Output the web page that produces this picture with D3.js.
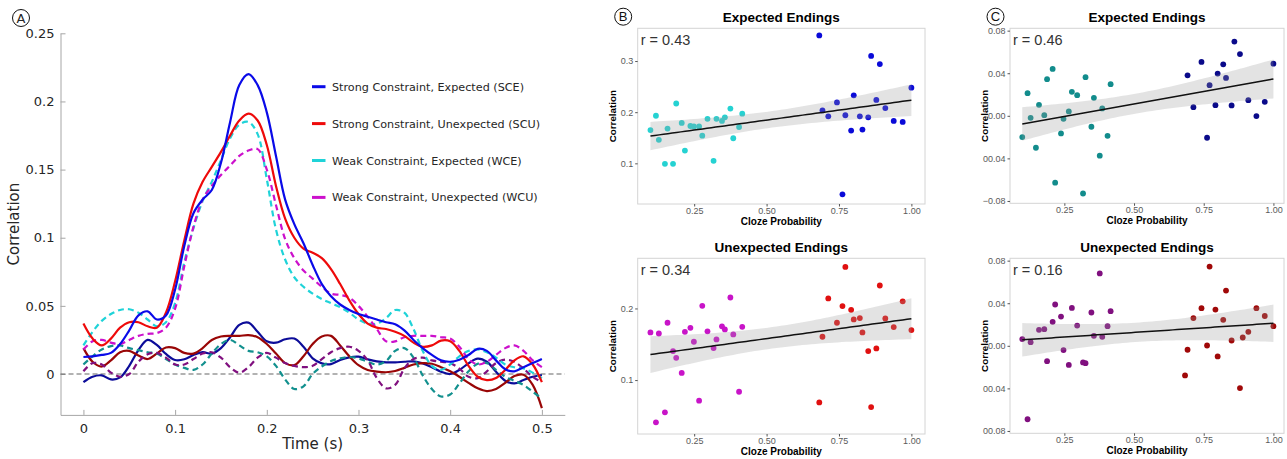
<!DOCTYPE html>
<meta charset="utf-8">
<style>
body { margin: 0; background: #fff; }
svg { display: block; }
.matlab text { font-family: 'DejaVu Sans', sans-serif; fill: #262626; }
.gg text { font-family: 'Liberation Sans', Arial, sans-serif; }
</style>
<body>
<script src="https://d3js.org/d3.v7.min.js"></script>
<script>

// ---- panel A: correlation time courses (sampled every 10 ms) ----
const times = d3.range(0, 51).map(i => i / 100);

const sce = [0.0125,0.013,0.014,0.0155,0.022,0.032,0.043,0.046,0.040,0.043,
             0.062,0.094,0.118,0.128,0.135,0.155,0.185,0.212,0.220,0.212,
             0.192,0.160,0.128,0.110,0.096,0.080,0.066,0.057,0.051,0.047,
             0.044,0.042,0.040,0.038,0.0365,0.032,0.025,0.019,0.014,0.010,
             0.009,0.0105,0.014,0.0185,0.017,0.010,0.0035,0.002,0.005,0.008,0.011];
const scu = [0.037,0.026,0.021,0.026,0.034,0.038,0.038,0.035,0.034,0.045,
             0.068,0.098,0.125,0.141,0.152,0.163,0.175,0.186,0.191,0.186,
             0.168,0.138,0.114,0.100,0.092,0.089,0.085,0.077,0.066,0.054,
             0.044,0.037,0.034,0.033,0.031,0.028,0.023,0.020,0.021,0.0245,
             0.024,0.017,0.006,-0.002,-0.0045,-0.003,0.003,0.010,0.013,0.007,-0.006];
const wce = [0.021,0.031,0.039,0.044,0.047,0.0475,0.045,0.040,0.035,0.038,
             0.052,0.082,0.107,0.127,0.141,0.157,0.173,0.183,0.185,0.176,
             0.143,0.106,0.084,0.071,0.064,0.059,0.055,0.052,0.049,0.045,
             0.040,0.037,0.037,0.041,0.047,0.045,0.033,0.017,0.006,0.003,
             0.007,0.013,0.017,0.018,0.016,0.012,0.007,0.005,0.004,0.001,-0.003];
const wcu = [0.018,0.024,0.025,0.023,0.022,0.025,0.028,0.0295,0.030,0.034,
             0.048,0.079,0.108,0.128,0.138,0.146,0.153,0.160,0.164,0.165,
             0.150,0.124,0.099,0.085,0.076,0.070,0.064,0.059,0.058,0.056,
             0.050,0.042,0.033,0.024,0.024,0.027,0.028,0.028,0.028,0.027,
             0.026,0.020,0.011,0.007,0.009,0.014,0.019,0.021,0.017,0.010,0.005];
// control time courses (no legend entry)
const sceCtrl = [-0.006,-0.002,-0.001,-0.004,-0.0025,0.006,0.0176,0.025,0.0213,0.0147,
             0.0103,0.0108,0.014,0.016,0.015,0.019,0.027,0.036,0.0377,0.031,
             0.024,0.023,0.0255,0.026,0.020,0.0115,0.0078,0.0073,0.0103,0.0122,
             0.0127,0.0108,0.0093,0.0086,0.0086,0.009,0.0093,0.0078,0.0049,0.0017,
             0.0,0.003,0.0078,0.0113,0.009,0.0017,-0.0049,-0.0069,-0.0044,-0.002,-0.0007];
const scuCtrl = [0.019,0.009,0.0055,0.010,0.016,0.017,0.0135,0.011,0.015,0.0195,
             0.019,0.0155,0.015,0.019,0.025,0.0275,0.028,0.028,0.0285,0.027,
             0.022,0.015,0.008,0.0065,0.013,0.022,0.0275,0.028,0.021,0.013,
             0.0065,0.003,0.0018,0.0013,0.0022,0.0045,0.007,0.008,0.0075,0.005,
             0.002,-0.002,-0.0065,-0.0105,-0.0125,-0.011,-0.0065,-0.0015,-0.0005,-0.008,-0.025];
const wceCtrl = [0.007,0.013,0.018,0.0205,0.021,0.019,0.0175,0.016,0.015,0.011,
             0.007,0.0045,0.003,0.007,0.015,0.022,0.025,0.021,0.017,0.016,
             0.013,0.006,-0.004,-0.011,-0.009,0.0,0.0055,0.0095,0.0115,0.0125,
             0.0115,0.009,0.007,0.0095,0.017,0.019,0.012,-0.001,-0.011,-0.0165,
             -0.015,-0.007,0.002,0.0075,0.008,0.003,-0.002,-0.005,-0.008,-0.013,-0.018];
const wcuCtrl = [0.002,0.008,0.007,0.001,-0.002,0.0,0.009,0.0145,0.0155,0.012,
             0.007,0.007,0.011,0.015,0.016,0.012,0.005,0.001,0.005,0.012,
             0.0155,0.012,0.008,0.006,0.005,0.006,0.011,0.016,0.019,0.020,
             0.017,0.010,-0.003,-0.0105,-0.008,0.004,0.011,0.012,0.010,0.009,
             0.008,0.004,-0.002,-0.003,0.002,0.008,0.0105,0.009,0.004,-0.002,-0.006];

const seriesA = [
  {name: "Strong Constraint, Expected (SCE)", values: sce, color: "#0a0ae8", dash: null, legend: true},
  {name: "Strong Constraint, Unexpected (SCU)", values: scu, color: "#ee0a0a", dash: null, legend: true},
  {name: "Weak Constraint, Expected (WCE)", values: wce, color: "#1fd3d8", dash: "6,4", legend: true},
  {name: "Weak Constraint, Unexpected (WCU)", values: wcu, color: "#cc10cc", dash: "6,4", legend: true},
  {name: "SCE control", values: sceCtrl, color: "#0c0c99", dash: null},
  {name: "SCU control", values: scuCtrl, color: "#990606", dash: null},
  {name: "WCE control", values: wceCtrl, color: "#12908e", dash: "6,4"},
  {name: "WCU control", values: wcuCtrl, color: "#80107f", dash: "6,4"}
];
const drawOrder = [4, 5, 6, 7, 2, 3, 1, 0];

const xTicksA = [0, 0.1, 0.2, 0.3, 0.4, 0.5];
const yTicksA = [0, 0.05, 0.1, 0.15, 0.2, 0.25];

// ---- panels B and C: cloze probability vs correlation ----
const bTopLowX  = [0.099,0.118,0.128,0.149,0.158,0.177,0.188,0.207,0.218,0.237,0.249,0.267,0.278,0.296,0.317,0.327,0.346,0.356,0.375,0.385,0.405,0.416];
const bTopLowY  = [0.165,0.193,0.146,0.099,0.168,0.099,0.217,0.179,0.125,0.173,0.172,0.172,0.154,0.187,0.105,0.187,0.183,0.190,0.207,0.149,0.171,0.197];
const bTopHighX = [0.682,0.693,0.713,0.743,0.762,0.772,0.792,0.801,0.822,0.831,0.851,0.861,0.879,0.891,0.910,0.939,0.970,1.000];
const bTopHighY = [0.350,0.2035,0.192,0.219,0.0395,0.194,0.164,0.233,0.192,0.166,0.190,0.310,0.224,0.294,0.208,0.183,0.181,0.248];

const bBotLowX  = [0.099,0.118,0.128,0.149,0.158,0.177,0.188,0.207,0.218,0.237,0.249,0.267,0.278,0.296,0.317,0.327,0.346,0.356,0.375,0.385,0.405,0.416];
const bBotLowY  = [0.1665,0.041,0.165,0.055,0.180,0.1405,0.131,0.110,0.1674,0.173,0.1535,0.0712,0.2037,0.168,0.1447,0.1567,0.175,0.1707,0.2153,0.1637,0.0837,0.1744];
const bBotHighX = [0.682,0.693,0.713,0.743,0.762,0.772,0.792,0.801,0.822,0.831,0.851,0.861,0.879,0.891,0.910,0.939,0.970,1.000];
const bBotHighY = [0.0688,0.1605,0.214,0.180,0.2033,0.258,0.198,0.1847,0.1865,0.1665,0.1405,0.0623,0.1442,0.232,0.186,0.174,0.210,0.1698];

const cTopLowX  = [0.099,0.118,0.129,0.148,0.159,0.178,0.188,0.208,0.217,0.238,0.247,0.266,0.277,0.296,0.317,0.326,0.347,0.356,0.377,0.386,0.405,0.416];
const cTopLowY  = [-0.020,0.0213,-0.0019,-0.030,0.0103,0.0006,0.0344,0.044,-0.0628,-0.0166,-0.0028,0.0041,0.0225,0.0194,-0.073,0.0363,-0.0103,0.0169,-0.0375,0.0069,-0.0188,0.0297];
const cTopHighX = [0.692,0.713,0.742,0.762,0.771,0.792,0.800,0.820,0.830,0.850,0.860,0.880,0.910,0.939,0.969,1.000];
const cTopHighY = [0.038,0.0081,0.0506,-0.0206,0.0288,0.010,0.0397,0.0484,0.0356,0.0097,0.0697,0.058,0.0147,-0.0003,0.0131,0.049];

const cBotLowX  = [0.099,0.118,0.129,0.159,0.178,0.188,0.208,0.217,0.238,0.247,0.266,0.277,0.296,0.317,0.326,0.347,0.356,0.377,0.386,0.405,0.416];
const cBotLowY  = [0.0063,-0.069,0.0034,0.015,0.0156,-0.0144,0.0225,0.0388,0.0275,-0.004,-0.018,0.0356,0.019,-0.0156,-0.0163,0.0313,0.0094,0.068,0.0084,0.0184,0.0325];
const cBotHighX = [0.683,0.692,0.713,0.742,0.762,0.771,0.792,0.800,0.820,0.830,0.850,0.880,0.890,0.910,0.939,0.969,1.000];
const cBotHighY = [-0.0278,-0.0037,0.026,0.0353,0.0003,0.0744,0.034,-0.010,0.0244,0.0519,0.005,-0.0397,0.0078,0.0131,0.0353,0.028,0.0184];

const clozeTicks = [0.25, 0.5, 0.75, 1.0];
const clozeTickLabels = ["0.25", "0.50", "0.75", "1.00"];
const bTopTicks = [0.1, 0.2, 0.3];
const bBotTicks = [0.1, 0.2];
const cTicks = [0.08, 0.04, 0, -0.04, -0.08];
const cTopTickLabels = ["0.08", "0.04", "0.00", "00.04", "\u22120.08"];
const cBotTickLabels = ["0.08", "0.04", "0.00", "00.04", "00.08"];

const scatterPanels = [
  {title: "Expected Endings", r: "r = 0.43", letter: "B",
   low: [bTopLowX, bTopLowY], high: [bTopHighX, bTopHighY], colors: ["#25d2d2", "#0a0ad8"],
   box: [637.7, 28.3, 925, 204], xdom: [0.055, 1.047], ydom: [0.0205, 0.364],
   ticks: bTopTicks, tickLabels: bTopTicks.map(d => d.toFixed(1))},
  {title: "Unexpected Endings", r: "r = 0.34",
   low: [bBotLowX, bBotLowY], high: [bBotHighX, bBotHighY], colors: ["#c814c8", "#e01010"],
   box: [637.7, 258.3, 925, 434], xdom: [0.055, 1.047], ydom: [0.0247, 0.27],
   ticks: bBotTicks, tickLabels: bBotTicks.map(d => d.toFixed(1))},
  {title: "Expected Endings", r: "r = 0.46", letter: "C",
   low: [cTopLowX, cTopLowY], high: [cTopHighX, cTopHighY], colors: ["#128c8c", "#0a0a8a"],
   box: [1010, 28.3, 1284, 203.3], xdom: [0.055, 1.038], ydom: [-0.0822, 0.0822],
   ticks: cTicks, tickLabels: cTopTickLabels},
  {title: "Unexpected Endings", r: "r = 0.16",
   low: [cBotLowX, cBotLowY], high: [cBotHighX, cBotHighY], colors: ["#80107f", "#a00808"],
   box: [1010, 258.3, 1284, 433.3], xdom: [0.055, 1.038], ydom: [-0.0822, 0.0822],
   ticks: cTicks, tickLabels: cBotTickLabels}
];

const svg = d3.select("body").append("svg")
    .attr("width", 1287)
    .attr("height", 459);

// ================= Panel A =================
const gA = svg.append("g").attr("class", "matlab");
const xA = d3.scaleLinear().domain([-0.025, 0.525]).range([60.5, 564.8]);
const yA = d3.scaleLinear().domain([-0.03, 0.25]).range([414.9, 33.3]);

gA.append("g")
    .attr("transform", `translate(0,${yA.range()[0]})`)
    .call(d3.axisBottom(xA).tickValues(xTicksA).tickFormat(d3.format("~g"))
          .tickSizeInner(-5).tickSizeOuter(0).tickPadding(9))
    .call(g => g.selectAll("text").attr("font-size", 13).attr("font-family", "DejaVu Sans").attr("fill", "#262626"))
    .call(g => g.selectAll("line, path").attr("stroke", "#a6a6a6"));

gA.append("g")
    .attr("transform", `translate(${xA.range()[0]},0)`)
    .call(d3.axisLeft(yA).tickValues(yTicksA).tickFormat(d3.format("~g"))
          .tickSizeInner(-5).tickSizeOuter(0).tickPadding(6))
    .call(g => g.selectAll("text").attr("font-size", 13).attr("font-family", "DejaVu Sans").attr("fill", "#262626"))
    .call(g => g.selectAll("line, path").attr("stroke", "#a6a6a6"));

gA.append("line")
    .attr("x1", xA.range()[0]).attr("x2", xA.range()[1])
    .attr("y1", yA(0)).attr("y2", yA(0))
    .attr("stroke", "#666").attr("stroke-width", 1.2).attr("stroke-dasharray", "5,3");

const lineA = d3.line()
    .x((d, i) => xA(times[i]))
    .y(d => yA(d))
    .curve(d3.curveCatmullRom.alpha(0.5));

gA.append("g")
    .selectAll("path")
    .data(drawOrder.map(i => seriesA[i]))
    .join("path")
      .attr("d", d => lineA(d.values))
      .attr("fill", "none")
      .attr("stroke", d => d.color)
      .attr("stroke-width", 2.2)
      .attr("stroke-dasharray", d => d.dash);

gA.append("text")
    .attr("x", (xA.range()[0] + xA.range()[1]) / 2)
    .attr("y", 449)
    .attr("text-anchor", "middle")
    .attr("font-size", 15)
    .text("Time (s)");

gA.append("text")
    .attr("transform", `translate(19,${(yA.range()[0] + yA.range()[1]) / 2}) rotate(-90)`)
    .attr("text-anchor", "middle")
    .attr("font-size", 15)
    .text("Correlation");

const legA = gA.append("g")
    .selectAll("g")
    .data(seriesA.filter(d => d.legend))
    .join("g")
      .attr("transform", (d, i) => `translate(312,${86.7 + i * 36.9})`);
legA.append("line")
    .attr("x1", 0).attr("x2", 13.5)
    .attr("stroke", d => d.color).attr("stroke-width", 3);
legA.append("text")
    .attr("x", 20).attr("dy", "0.36em")
    .attr("font-size", 11.2)
    .text(d => d.name);

function circledLetter(g, cx, cy, letter, font) {
  g.append("circle").attr("cx", cx).attr("cy", cy).attr("r", 8.5)
      .attr("fill", "none").attr("stroke", "#111").attr("stroke-width", 1);
  g.append("text").attr("x", cx).attr("y", cy).attr("dy", "0.36em")
      .attr("text-anchor", "middle").attr("font-size", 13)
      .attr("font-family", font).attr("fill", "#111").text(letter);
}
circledLetter(gA, 21, 18, "A", "DejaVu Sans");

// ================= Panels B, C =================
function linFit(xs, ys, grid) {
  const n = xs.length, mx = d3.mean(xs), my = d3.mean(ys);
  let sxx = 0, sxy = 0;
  xs.forEach((x, i) => { sxx += (x - mx) ** 2; sxy += (x - mx) * (ys[i] - my); });
  const b = sxy / sxx, a = my - b * mx;
  let sse = 0;
  xs.forEach((x, i) => { sse += (ys[i] - a - b * x) ** 2; });
  const s = Math.sqrt(sse / (n - 2)), tq = 2.025;
  return grid.map(x => {
    const yh = a + b * x, se = s * Math.sqrt(1 / n + (x - mx) ** 2 / sxx);
    return {x, y: yh, lo: yh - tq * se, hi: yh + tq * se};
  });
}

scatterPanels.forEach(p => {
  const g = svg.append("g").attr("class", "gg");
  const [x0, y0, x1, y1] = p.box;
  const x = d3.scaleLinear().domain(p.xdom).range([x0, x1]);
  const y = d3.scaleLinear().domain(p.ydom).range([y1, y0]);
  const cx = (x0 + x1) / 2;

  g.append("rect").attr("x", x0).attr("y", y0)
      .attr("width", x1 - x0).attr("height", y1 - y0)
      .attr("fill", "#fff").attr("stroke", "#d4d4d4").attr("stroke-width", 1);

  g.append("g")
      .attr("transform", `translate(0,${y1})`)
      .call(d3.axisBottom(x).tickValues(clozeTicks).tickFormat((d, i) => clozeTickLabels[i])
            .tickSizeInner(2.5).tickSizeOuter(0).tickPadding(1))
      .call(a => a.select(".domain").remove())
      .call(a => a.selectAll("line").attr("stroke", "#555"))
      .call(a => a.selectAll("text").attr("font-size", 9).attr("fill", "#5a5a5a")
                  .attr("font-family", "Liberation Sans"));

  g.append("g")
      .attr("transform", `translate(${x0},0)`)
      .call(d3.axisLeft(y).tickValues(p.ticks).tickFormat((d, i) => p.tickLabels[i])
            .tickSizeInner(2.5).tickSizeOuter(0).tickPadding(2))
      .call(a => a.select(".domain").remove())
      .call(a => a.selectAll("line").attr("stroke", "#555"))
      .call(a => a.selectAll("text").attr("font-size", 9).attr("fill", "#5a5a5a")
                  .attr("font-family", "Liberation Sans"));

  const allX = p.low[0].concat(p.high[0]);
  const allY = p.low[1].concat(p.high[1]);

  g.append("g").selectAll("circle")
      .data(p.low[0].map((v, i) => [v, p.low[1][i], 0]).concat(p.high[0].map((v, i) => [v, p.high[1][i], 1])))
      .join("circle")
        .attr("cx", d => x(d[0]))
        .attr("cy", d => y(d[1]))
        .attr("r", 2.9)
        .attr("fill", d => p.colors[d[2]]);

  const xmin = d3.min(allX), xmax = d3.max(allX);
  const grid = d3.range(0, 61).map(i => xmin + (xmax - xmin) * i / 60);
  const fit = linFit(allX, allY, grid);

  g.append("path")
      .attr("d", d3.area().x(d => x(d.x)).y0(d => y(d.lo)).y1(d => y(d.hi))(fit))
      .attr("fill", "#999").attr("fill-opacity", 0.28);
  g.append("path")
      .attr("d", d3.line().x(d => x(d.x)).y(d => y(d.y))(fit))
      .attr("fill", "none").attr("stroke", "#111").attr("stroke-width", 1.5);

  g.append("text").attr("x", x0 + 3).attr("y", y0 + 6.2).attr("dy", "0.71em")
      .attr("font-size", 14.5).attr("fill", "#333").text(p.r);

  g.append("text").attr("x", cx).attr("y", y0 - 11.6).attr("dy", "0.36em")
      .attr("text-anchor", "middle").attr("font-size", 13.5).attr("font-weight", "bold")
      .attr("fill", "#000").text(p.title);

  g.append("text").attr("x", cx).attr("y", y1 + 17.5).attr("dy", "0.36em")
      .attr("text-anchor", "middle").attr("font-size", 10).attr("font-weight", "bold")
      .attr("fill", "#000").text("Cloze Probability");

  g.append("text")
      .attr("transform", `translate(${x0 - 22},${(y0 + y1) / 2}) rotate(-90)`)
      .attr("text-anchor", "middle").attr("font-size", 9.8).attr("font-weight", "bold")
      .attr("fill", "#000").text("Correlation");

  if (p.letter) circledLetter(g, x0 - 14.5, y0 - 11.6, p.letter, "Liberation Sans");
});

</script>
</body>
